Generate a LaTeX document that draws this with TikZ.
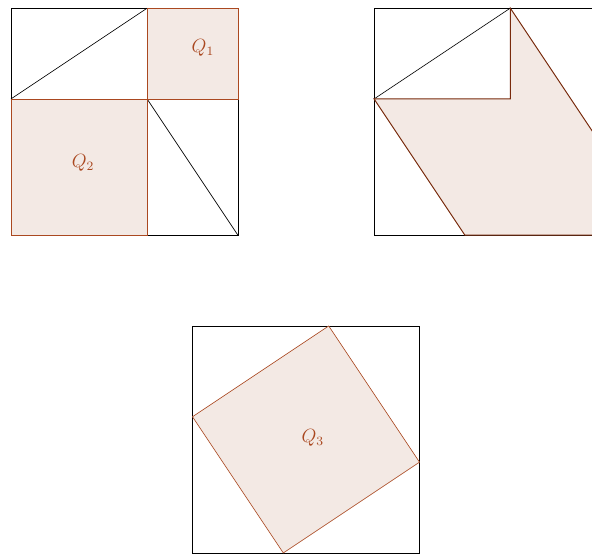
\documentclass[tikz,border=0pt]{standalone}
\definecolor{qedge}{RGB}{170,72,32}
\definecolor{qdark}{RGB}{120,42,12}
\definecolor{qfill}{RGB}{243,233,228}
\tikzset{
    square/.style = { draw=black },
     piece/.style = { draw=qedge, fill=qfill },
    qlabel/.style = { text=qedge, font=\large, align=center, anchor=center }
}

\begin{document}
\begin{tikzpicture}
  \useasboundingbox (-0.24,-7.04) rectangle (12.80,5.18);
  \clip (-0.24,-7.04) rectangle (12.80,5.18);

  % Q1 and Q2 side by side
  \draw [square] (0,0) rectangle (5,5);
  \draw (0,3) -- (3,5);
  \draw (3,3) -- (5,0);
  \draw [piece] (3,3) rectangle (5,5);
  \draw [piece] (0,0) rectangle (3,3);
  \node [qlabel] (q1) at (4.23,4.12) {$Q_1$};
  \node [qlabel] (q2) at (1.59,1.59) {$Q_2$};

  % triangles moved
  \draw [square] (8,0) rectangle (13,5);
  \draw (8,3) -- (11,5);
  \draw [piece, draw=qdark, line width=0.6pt] (8,3) -- (10,0) -- (13,0) -- (13,2) -- (11,5) -- (11,3) -- cycle;

  % Q3
  \draw [square] (4,-7) rectangle (9,-2);
  \draw [piece] (4,-4) -- (7,-2) -- (9,-5) -- (6,-7) -- cycle;
  \node [qlabel] (q3) at (6.65,-4.47) {$Q_3$};

\end{tikzpicture}
\end{document}
